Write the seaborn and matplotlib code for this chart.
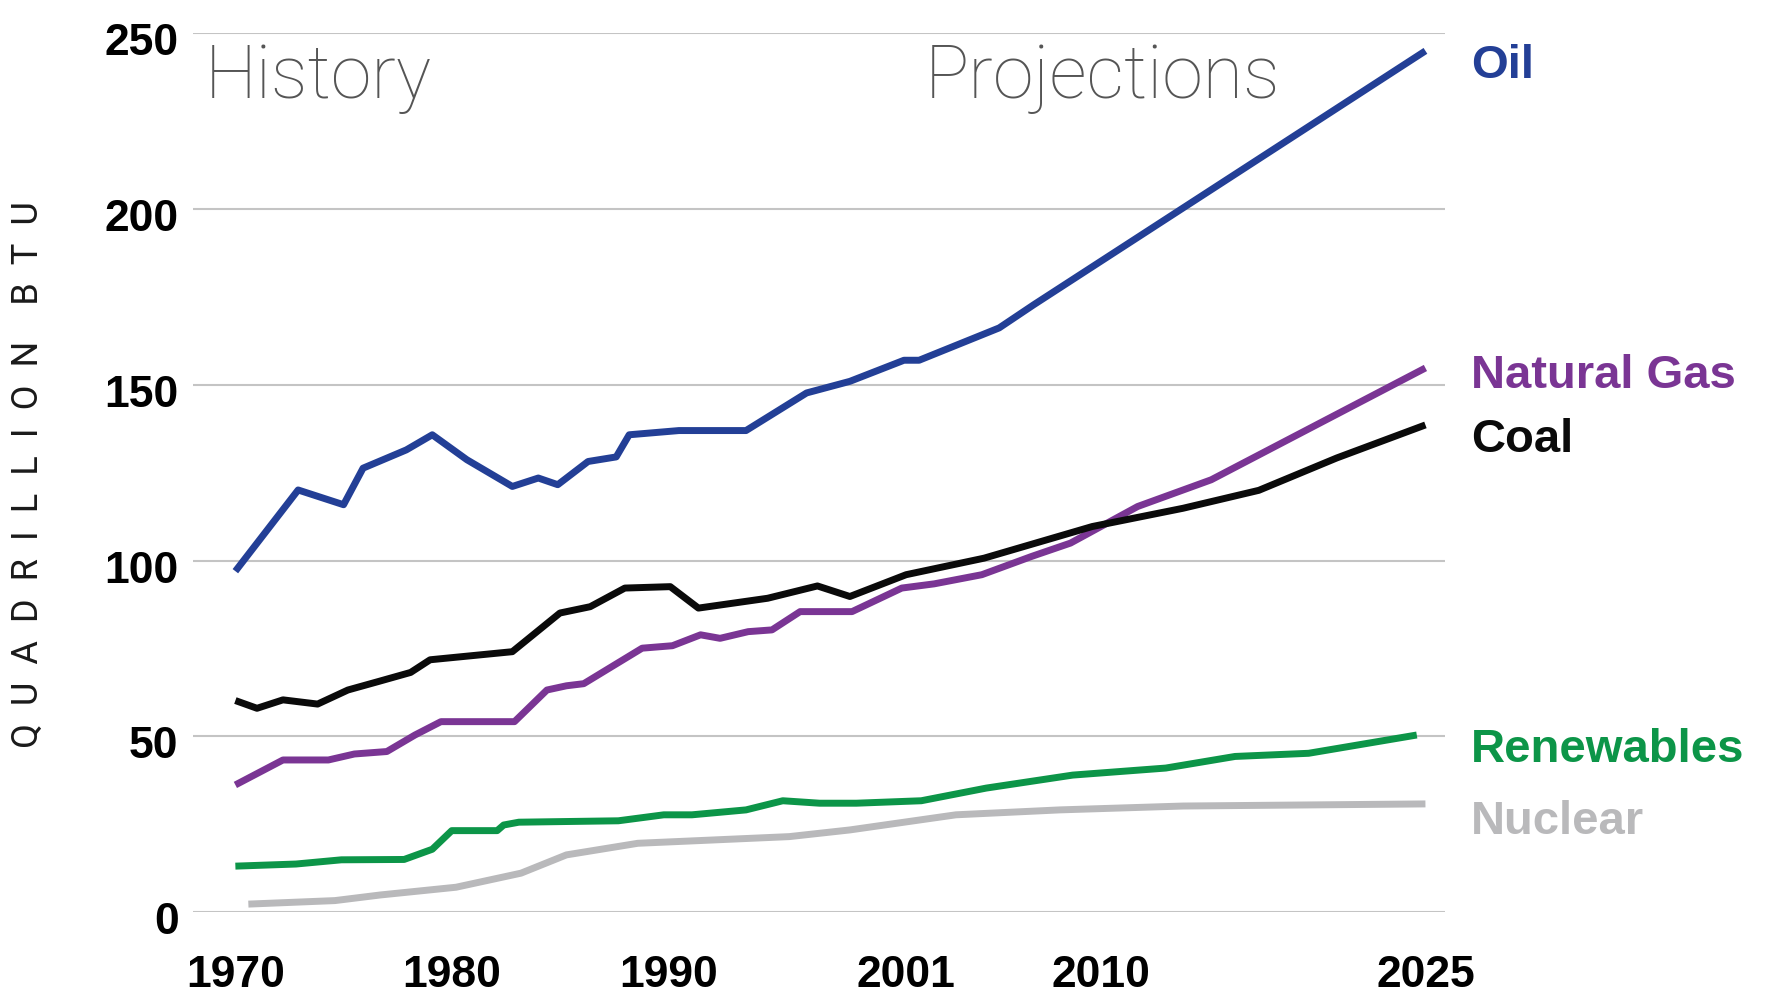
import numpy as np
import pandas as pd
import seaborn as sns
import matplotlib.pyplot as plt
import matplotlib.transforms as mtransforms

# Datos (quadrillion Btu)
oil_years = [1970, 1972.9, 1975.0, 1975.9, 1977.9, 1979.1, 1980.7, 1982.8, 1984.0, 1984.9, 1986.3,
             1987.6, 1988.2, 1990.5, 1993.6, 1996.4, 1998.4, 2000.9, 2001.6, 2005.3, 2006.9, 2025]
oil_vals = [97, 120.1, 115.9, 126.3, 131.5, 135.8, 128.7, 121.1, 123.5, 121.6, 128.2,
            129.5, 135.8, 137, 137, 147.7, 151, 157, 157, 166.2, 172.8, 245]

gas_years = [1970, 1972.2, 1974.3, 1975.5, 1977.0, 1978.3, 1979.5, 1982.9, 1984.4, 1985.3, 1986.1,
             1988.8, 1990.2, 1991.5, 1992.4, 1993.7, 1994.8, 1996.1, 1998.5, 2000.8, 2002.3,
             2004.5, 2006.8, 2008.6, 2011.7, 2015.1, 2025]
gas_vals = [36.2, 43.3, 43.3, 45.0, 45.7, 50.4, 54.2, 54.2, 63.2, 64.4, 65,
            75.1, 75.8, 78.9, 77.9, 79.8, 80.3, 85.5, 85.5, 92.2, 93.4,
            96, 101.2, 105, 115.4, 123, 154.8]

coal_years = [1970, 1971.0, 1972.2, 1973.8, 1975.2, 1976.6, 1978.1, 1979.0, 1982.8, 1985.0, 1986.4,
              1988.0, 1990.1, 1991.4, 1994.6, 1996.9, 1998.4, 2001.0, 2004.6, 2009.6, 2013.8,
              2017.3, 2020.9, 2025]
coal_vals = [60.2, 58.0, 60.4, 59.2, 63.2, 65.6, 68.2, 71.8, 74.1, 85.1, 86.9,
             92.2, 92.6, 86.5, 89.3, 92.8, 89.8, 96, 100.7, 109.7, 114.9,
             120, 129.2, 138.6]

ren_years = [1970, 1972.8, 1974.9, 1977.8, 1979.1, 1980.0, 1982.1, 1982.4, 1983.1, 1987.7, 1989.8,
             1991.1, 1993.6, 1995.3, 1997.0, 1998.7, 2001.7, 2004.7, 2008.7, 2013.0, 2016.2,
             2019.6, 2024.6]
ren_vals = [13.1, 13.7, 14.9, 15.0, 17.9, 23.2, 23.2, 24.8, 25.6, 26, 27.7,
            27.7, 29.1, 31.7, 31, 31, 31.7, 35.3, 39, 41, 44.3,
            45.2, 50.4]

nuc_years = [1970.6, 1974.6, 1976.7, 1980.2, 1983.2, 1985.3, 1988.6, 1995.6, 1998.4, 2003.3,
             2008.1, 2013.8, 2025]
nuc_vals = [2.3, 3.3, 4.9, 7.1, 11.1, 16.3, 19.6, 21.5, 23.4, 27.7,
            29.1, 30.2, 30.8]

sources = ["Oil", "Natural Gas", "Coal", "Renewables", "Nuclear"]
colors = ["#233f96", "#7a3594", "#0a0a0a", "#0c9548", "#b9b9bb"]
x_ticks = [1970, 1980, 1990, 2001, 2010, 2025]
y_ticks = [0, 50, 100, 150, 200, 250]

series = {
    "Oil": (oil_years, oil_vals),
    "Natural Gas": (gas_years, gas_vals),
    "Coal": (coal_years, coal_vals),
    "Renewables": (ren_years, ren_vals),
    "Nuclear": (nuc_years, nuc_vals),
}
df = pd.concat([pd.DataFrame({"year": y, "value": v, "source": s}) for s, (y, v) in series.items()],
               ignore_index=True)

sns.set_style("white")
plt.rcParams['font.family'] = ['Liberation Sans', 'DejaVu Sans']

fig = plt.figure(figsize=(17.68, 9.94), dpi=100)
ax = fig.add_axes([0.1089, 0.0823, 0.7086, 0.8842])

sns.lineplot(data=df, x="year", y="value", hue="source", hue_order=sources,
             palette=dict(zip(sources, colors)), estimator=None, sort=True,
             linewidth=5, legend=False, ax=ax, solid_capstyle="butt")

ax.set_xlim(1968.02, 2025.92)
ax.set_ylim(0, 250)
ax.set_xticks(x_ticks)
ax.set_yticks(y_ticks)
ax.set_xlabel("")
ax.set_ylabel("")
for sp in ax.spines.values():
    sp.set_visible(False)
ax.yaxis.grid(True, color="#c4c4c4", linewidth=1.5)
ax.xaxis.grid(False)
ax.set_axisbelow(True)
ax.tick_params(axis="both", length=0, labelsize=32, labelcolor="black")
ax.tick_params(axis="y", pad=10)
ax.tick_params(axis="x", pad=31)
for lab in ax.get_xticklabels() + ax.get_yticklabels():
    lab.set_fontweight("bold")
off = mtransforms.ScaledTranslation(0, -6 / 100, fig.dpi_scale_trans)
for lab in ax.get_yticklabels():
    lab.set_transform(lab.get_transform() + off)

# etiquetas de cada serie a la derecha
label_y = {"Oil": 237.4, "Natural Gas": 149.2, "Coal": 131.0, "Renewables": 42.8, "Nuclear": 22.3}
for s, c in zip(sources, colors):
    ax.text(2027.1, label_y[s], s, color=c, fontsize=34, fontweight="bold",
            ha="left", va="baseline")

ax.text(1968.6, 231.6, "History", family=["Roboto", "DejaVu Sans"], fontweight="light",
        fontsize=53, color="#555555", ha="left", va="baseline")
ax.text(2001.85, 231.6, "Projections", family=["Roboto", "DejaVu Sans"], fontweight="light",
        fontsize=53, color="#555555", ha="left", va="baseline")

fig.text(0.0157, 0.523, "Q  U  A  D  R  I  L  L  I  O  N    B  T  U", rotation=90,
         family=["Roboto", "DejaVu Sans"], fontweight="normal", fontsize=26,
         color="#1a1a1a", ha="center", va="center")

fig.savefig("out.png", dpi=100)
